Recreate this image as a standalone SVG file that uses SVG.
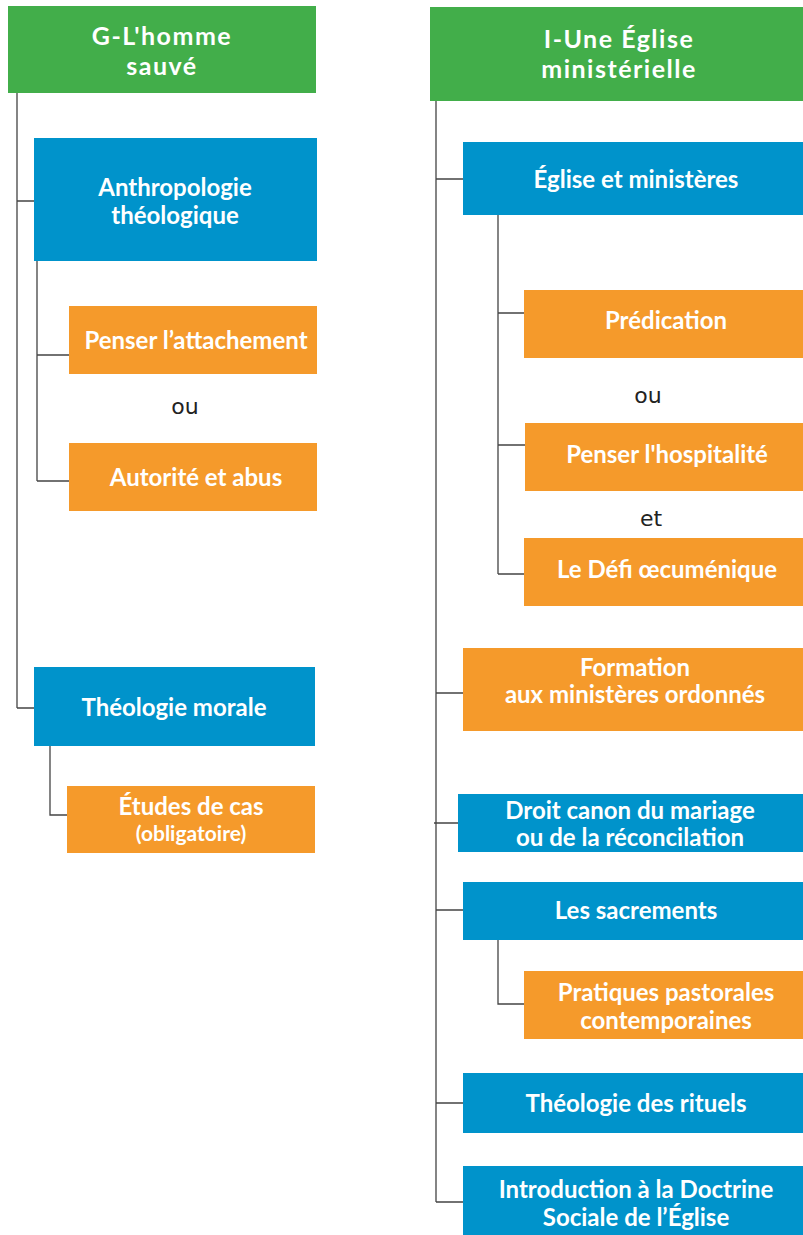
<svg xmlns="http://www.w3.org/2000/svg" width="803" height="1235" viewBox="0 0 803 1235">
<style>
.g{fill:#42AE4A}.b{fill:#0093CB}.o{fill:#F59A2B}
text{font-family:Lato,"Open Sans",sans-serif;fill:#fff;text-anchor:middle;font-weight:bold}
.t{font-size:25px;letter-spacing:1.5px}
.n{font-size:24px}
.s{font-size:21px}
.w{fill:#222;font-weight:normal;font-size:22px;font-family:"DejaVu Sans",sans-serif}
#conn path{stroke:#444;stroke-width:1.3;fill:none}
</style>
<rect width="803" height="1235" fill="#fff"/>
<g id="conn">
<path d="M17 93V708M17 201H34M17 708H34"/>
<path d="M37 261V481M37 355H69M37 481H69"/>
<path d="M50 746V815H67"/>
<path d="M436 101V1202M436 179H463M436 693H463M434 823H458M436 910H463M436 1103H463M436 1202H463"/>
<path d="M498 215V574M498 313H524M498 445H525M498 574H524"/>
<path d="M498 940V1004H524"/>
</g>
<g id="n1"><rect class="g" x="8" y="6" width="308" height="87"/><text class="t" x="162" y="45">G-L'homme</text><text class="t" x="162" y="75">sauvé</text></g>
<g id="n2"><rect class="b" x="34" y="138" width="283" height="123"/><text class="n" x="175" y="196">Anthropologie</text><text class="n" x="175" y="224">théologique</text></g>
<g id="n3"><rect class="o" x="69" y="306" width="248" height="68"/><text class="n" x="196" y="349">Penser l’attachement</text></g>
<g id="t1"><text class="w" x="185" y="414">ou</text></g>
<g id="n4"><rect class="o" x="69" y="443" width="248" height="68"/><text class="n" x="196" y="486">Autorité et abus</text></g>
<g id="n5"><rect class="b" x="34" y="667" width="281" height="79"/><text class="n" x="174" y="716">Théologie morale</text></g>
<g id="n6"><rect class="o" x="67" y="786" width="248" height="67"/><text class="n" x="191" y="815">Études de cas</text><text class="s" x="191" y="841">(obligatoire)</text></g>
<g id="n7"><rect class="g" x="430" y="7" width="373" height="94"/><text class="t" x="619" y="48">I-Une Église</text><text class="t" x="619" y="78">ministérielle</text></g>
<g id="n8"><rect class="b" x="463" y="142" width="340" height="73"/><text class="n" x="636" y="188">Église et ministères</text></g>
<g id="n9"><rect class="o" x="524" y="290" width="279" height="68"/><text class="n" x="666" y="329">Prédication</text></g>
<g id="t2"><text class="w" x="648" y="403">ou</text></g>
<g id="n10"><rect class="o" x="525" y="423" width="278" height="68"/><text class="n" x="667" y="463">Penser l'hospitalité</text></g>
<g id="t3"><text class="w" x="651" y="526">et</text></g>
<g id="n11"><rect class="o" x="524" y="538" width="279" height="68"/><text class="n" x="667" y="578">Le Défi œcuménique</text></g>
<g id="n12"><rect class="o" x="463" y="648" width="340" height="83"/><text class="n" x="635" y="676">Formation</text><text class="n" x="635" y="703">aux ministères ordonnés</text></g>
<g id="n13"><rect class="b" x="458" y="794" width="345" height="58"/><text class="n" x="630" y="819">Droit canon du mariage</text><text class="n" x="630" y="846">ou de la réconcilation</text></g>
<g id="n14"><rect class="b" x="463" y="882" width="340" height="58"/><text class="n" x="636" y="919">Les sacrements</text></g>
<g id="n15"><rect class="o" x="524" y="971" width="279" height="68"/><text class="n" x="666" y="1001">Pratiques pastorales</text><text class="n" x="666" y="1029">contemporaines</text></g>
<g id="n16"><rect class="b" x="463" y="1073" width="340" height="60"/><text class="n" x="636" y="1112">Théologie des rituels</text></g>
<g id="n17"><rect class="b" x="463" y="1166" width="340" height="69"/><text class="n" x="636" y="1198">Introduction à la Doctrine</text><text class="n" x="636" y="1226">Sociale de l’Église</text></g>
</svg>
